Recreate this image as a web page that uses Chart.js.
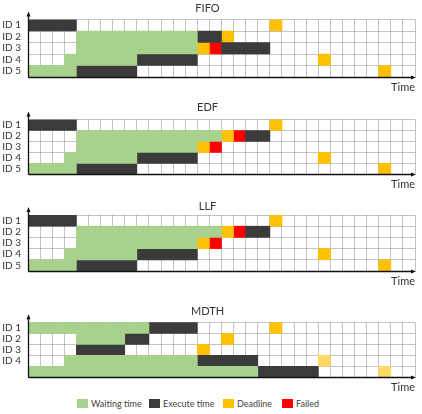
<!DOCTYPE html>
<html lang="en">
<head>
  <meta charset="UTF-8">
  <title>Scheduling comparison</title>
  <script src="https://cdn.jsdelivr.net/npm/chart.js"></script>
  <style>
    body {
      margin: 0;
      background: #fff;
      font-family: Lato, "Open Sans", sans-serif;
    }
    #wrap {
      position: relative;
      width: 422px;
      height: 414px;
    }
    canvas {
      position: absolute;
      left: 0;
    }
    #legend {
      position: absolute;
      top: 398px;
      left: 0;
      width: 422px;
      height: 12px;
      font-size: 9px;
      color: #444;
    }
    #legend span {
      position: absolute;
      top: 0;
      line-height: 11px;
      white-space: nowrap;
    }
    #legend i {
      position: absolute;
      top: 1px;
      width: 11px;
      height: 9px;
    }
  </style>
</head>
<body>
<div id="wrap">
  <canvas id="fifo" width="422" height="98" style="top:0px"></canvas>
  <canvas id="edf" width="422" height="100" style="top:98px"></canvas>
  <canvas id="llf" width="422" height="98" style="top:198px"></canvas>
  <canvas id="mdth" width="422" height="98" style="top:296px"></canvas>
  <div id="legend"></div>
</div>

<script>
  // time slots on the x axis
  const timeSlots = 32;
  const rowLabels = ["ID 1", "ID 2", "ID 3", "ID 4", "ID 5"];
  const mdthRowLabels = ["ID 1", "ID 2", "ID 3", "ID 4", ""];

  // [start, end) in time slots, one entry per row
  const fifoWaiting = [null, [4, 14], [4, 14], [3, 9], [0, 4]];
  const fifoExecute = [[0, 4], [14, 16], [16, 20], [9, 14], [4, 9]];
  const fifoDeadline = [20, 16, 14, 24, 29];
  const fifoFailed = [null, null, 15, null, null];

  const edfWaiting = [null, [4, 16], [4, 14], [3, 9], [0, 4]];
  const edfExecute = [[0, 4], [18, 20], null, [9, 14], [4, 9]];
  const edfDeadline = [20, 16, 14, 24, 29];
  const edfFailed = [null, 17, 15, null, null];

  const llfWaiting = [null, [4, 16], [4, 14], [3, 9], [0, 4]];
  const llfExecute = [[0, 4], [18, 20], null, [9, 14], [4, 9]];
  const llfDeadline = [20, 16, 14, 24, 29];
  const llfFailed = [null, 17, 15, null, null];

  const mdthWaiting = [[0, 10], [4, 8], null, [3, 14], [0, 19]];
  const mdthExecute = [[10, 14], [8, 10], [4, 8], [14, 19], [19, 24]];
  const mdthDeadline = [20, 16, 14, null, null];
  const mdthDeadlineLate = [null, null, null, 24, 29];
  const mdthFailed = [null, null, null, null, null];

  const legendNames = ["Waiting time", "Execute time", "Deadline", "Failed"];

  const colors = {
    waiting: "#a9d18e",
    execute: "#3b3b3b",
    deadline: "#ffc000",
    deadlineLate: "#ffd966",
    failed: "#ff0000"
  };

  const FONT = "Lato, 'Open Sans', sans-serif";

  // a deadline is one slot wide
  const cell = (v) => (v == null ? null : [v, v + 1]);

  // arrows for both axes
  const axisArrows = {
    id: "axisArrows",
    afterDraw(chart) {
      const { ctx, chartArea: a } = chart;
      const x0 = Math.round(a.left) + 0.5;
      const y0 = Math.round(a.bottom) + 0.5;
      ctx.save();
      ctx.strokeStyle = "#111";
      ctx.fillStyle = "#111";
      ctx.lineWidth = 1.3;
      ctx.beginPath();
      ctx.moveTo(x0, y0);
      ctx.lineTo(x0, a.top - 5);
      ctx.moveTo(x0, y0);
      ctx.lineTo(a.right - 2, y0);
      ctx.stroke();
      ctx.beginPath();
      ctx.moveTo(x0, a.top - 8);
      ctx.lineTo(x0 - 2, a.top - 3);
      ctx.lineTo(x0 + 2, a.top - 3);
      ctx.closePath();
      ctx.fill();
      ctx.beginPath();
      ctx.moveTo(a.right + 1, y0);
      ctx.lineTo(a.right - 4, y0 - 2);
      ctx.lineTo(a.right - 4, y0 + 2);
      ctx.closePath();
      ctx.fill();
      ctx.restore();
    }
  };

  function makePanel(id, p) {
    const datasets = [
      { label: legendNames[0], data: p.waiting, backgroundColor: colors.waiting },
      { label: legendNames[1], data: p.execute, backgroundColor: colors.execute },
      { label: legendNames[2], data: p.deadline.map(cell), backgroundColor: colors.deadline },
      { label: legendNames[3], data: p.failed.map(cell), backgroundColor: colors.failed }
    ];
    if (p.deadlineLate) {
      datasets.push({ label: "Deadline (late)", data: p.deadlineLate.map(cell), backgroundColor: colors.deadlineLate });
    }
    datasets.forEach(d => {
      d.barPercentage = 1;
      d.categoryPercentage = 1;
      d.borderWidth = 0;
      d.grouped = false;
    });

    const gridColor = "rgba(115, 115, 115, 0.42)";
    const titleY = p.titleY - p.top;
    const gridTop = p.gridTop - p.top;
    const gridBottom = p.gridBottom - p.top;
    const timeY = p.timeY - p.top;
    const timePad = timeY - gridBottom - 6.6;

    new Chart(document.getElementById(id), {
      type: "bar",
      data: { labels: p.labels, datasets: datasets },
      options: {
        responsive: false,
        animation: false,
        indexAxis: "y",
        layout: {
          padding: {
            top: 0,
            left: 0,
            right: 7,
            bottom: p.height - gridBottom - timePad - 13.2
          }
        },
        scales: {
          x: {
            type: "linear",
            min: 0,
            max: timeSlots,
            z: 1,
            border: { display: false },
            grid: { color: gridColor, lineWidth: 1, drawTicks: false },
            ticks: { display: false, stepSize: 1, maxTicksLimit: 40 },
            title: {
              display: true,
              text: "Time",
              align: "end",
              color: "#333",
              font: { family: FONT, size: 11 },
              padding: { top: timePad, bottom: 0 }
            }
          },
          y: {
            type: "category",
            z: 1,
            border: { display: false },
            grid: { color: gridColor, lineWidth: 1, drawTicks: false, offset: true },
            ticks: { color: "#333", padding: 7, autoSkip: false, font: { family: FONT, size: 10 } },
            afterFit(scale) { scale.width = 28; }
          }
        },
        plugins: {
          legend: { display: false },
          tooltip: { enabled: false },
          title: {
            display: true,
            text: p.title,
            color: "#333",
            font: { family: FONT, size: 11, weight: "normal" },
            padding: { top: titleY - 6.6, bottom: gridTop - titleY - 6.6 }
          }
        }
      },
      plugins: [axisArrows]
    });
  }

  makePanel("fifo", {
    title: "FIFO", labels: rowLabels, top: 0, height: 98,
    titleY: 8.3, gridTop: 19.5, gridBottom: 77, timeY: 87,
    waiting: fifoWaiting, execute: fifoExecute, deadline: fifoDeadline, failed: fifoFailed
  });
  makePanel("edf", {
    title: "EDF", labels: rowLabels, top: 98, height: 100,
    titleY: 107.3, gridTop: 119.5, gridBottom: 174.3, timeY: 184,
    waiting: edfWaiting, execute: edfExecute, deadline: edfDeadline, failed: edfFailed
  });
  makePanel("llf", {
    title: "LLF", labels: rowLabels, top: 198, height: 98,
    titleY: 206.7, gridTop: 215, gridBottom: 271, timeY: 281.7,
    waiting: llfWaiting, execute: llfExecute, deadline: llfDeadline, failed: llfFailed
  });
  makePanel("mdth", {
    title: "MDTH", labels: mdthRowLabels, top: 296, height: 98,
    titleY: 311.7, gridTop: 322.3, gridBottom: 377.3, timeY: 387.3,
    waiting: mdthWaiting, execute: mdthExecute, deadline: mdthDeadline,
    deadlineLate: mdthDeadlineLate, failed: mdthFailed
  });

  // legend under the last panel
  const legendItems = [
    { name: legendNames[0], color: colors.waiting, x: 77 },
    { name: legendNames[1], color: colors.execute, x: 149 },
    { name: legendNames[2], color: colors.deadline, x: 223 },
    { name: legendNames[3], color: colors.failed, x: 282 }
  ];
  const legend = document.getElementById("legend");
  legendItems.forEach(item => {
    const box = document.createElement("i");
    box.style.left = item.x + "px";
    box.style.background = item.color;
    legend.appendChild(box);
    const text = document.createElement("span");
    text.style.left = (item.x + 14) + "px";
    text.textContent = item.name;
    legend.appendChild(text);
  });
</script>
</body>
</html>
